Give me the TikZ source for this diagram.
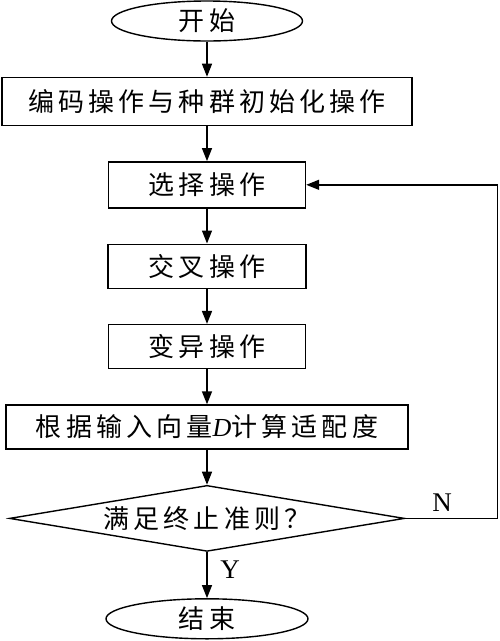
\documentclass[tikz,border=0pt]{standalone}
\usepackage{fontspec}
\setmainfont{Liberation Serif}
\newfontfamily\cjk[LetterSpace=16]{Noto Sans CJK SC}
\usetikzlibrary{arrows.meta, positioning, shapes.geometric}

\tikzset{
    proc/.style={rectangle, draw, line width=1.4pt, minimum height=44pt, inner sep=0pt, font=\fontsize{26}{30}\cjk},
    term/.style={ellipse, draw, line width=1.4pt, minimum height=40pt, inner sep=0pt, font=\fontsize{26}{30}\cjk},
    test/.style={diamond, draw, line width=1.4pt, aspect=6, minimum width=395pt, minimum height=66pt, inner sep=0pt, font=\fontsize{26}{30}\cjk},
    arr/.style={-{Triangle[length=13pt,width=10pt]}, line width=1.4pt}
}

\begin{document}
\begin{tikzpicture}[x=1pt, y=1pt, node distance=35pt]
    \useasboundingbox (0,0) rectangle (500,-641);

    % Start, initialisation and genetic operators
    \node (start) [term, minimum width=191pt] at (207,-21) {开始};
    \node (init) [proc, below=of start, minimum width=410pt, minimum height=48pt] {编码操作与种群初始化操作};
    \node (sel) [proc, below=of init, minimum width=197pt, minimum height=46pt] {选择操作};
    \node (cross) [proc, below=of sel, minimum width=198pt] {交叉操作};
    \node (mut) [proc, below=of cross, minimum width=197pt] {变异操作};

    % Fitness and termination test
    \node (fit) [proc, below=of mut, minimum width=402pt] {根据输入向量{\normalfont\itshape D}计算适配度};
    \node (dia) [test, below=of fit] {\makebox[0pt]{满足终止准则？}};
    \node (stop) [term, below=46pt of dia, minimum width=202pt] {结束};

    % Main flow
    \draw[arr] (start) -- (init);
    \draw[arr] (init) -- (sel);
    \draw[arr] (sel) -- (cross);
    \draw[arr] (cross) -- (mut);
    \draw[arr] (mut) -- (fit);
    \draw[arr] (fit) -- (dia);
    \draw[arr] (dia) -- (stop);

    % Loop back when the test fails
    \coordinate (back) at ([xshift=92pt]dia.east);
    \draw[arr] (dia.east) -- (back) |- (sel.east);

    % Branch labels
    \node (lblN) at (442,-503) {\fontsize{27}{30}\selectfont N};
    \node (lblY) at (230,-570) {\fontsize{27}{30}\selectfont Y};
\end{tikzpicture}
\end{document}
